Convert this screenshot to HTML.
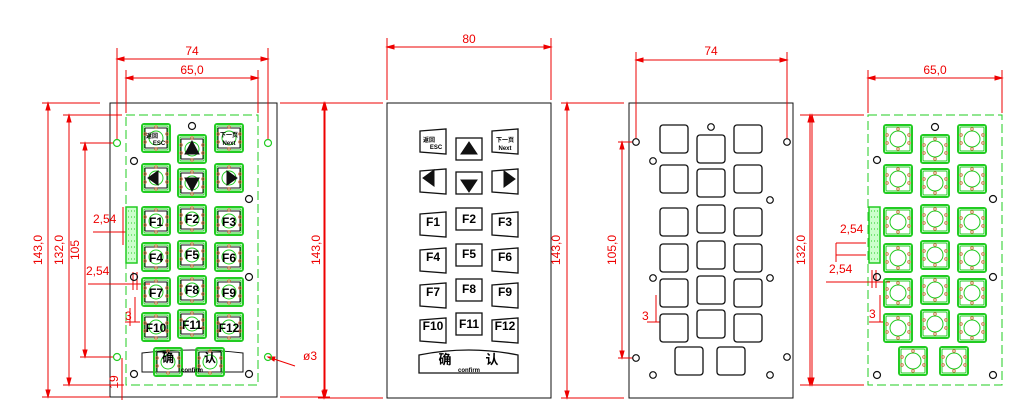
<!DOCTYPE html>
<html><head><meta charset="utf-8"><style>
body{margin:0;background:#fff;width:1036px;height:418px;overflow:hidden}
svg{display:block}
.d{fill:#e00;font-family:"Liberation Sans",sans-serif;font-size:12px}
.k{font-family:"Liberation Sans","Noto Sans CJK SC",sans-serif;font-weight:bold;fill:#000}
</style></head><body>
<svg id="s" width="1036" height="418" viewBox="0 0 1036 418" xmlns="http://www.w3.org/2000/svg">
<g id="g" stroke-linecap="butt"></g>
<text class="d" x="192" y="55" text-anchor="middle">74</text>
<text class="d" x="192" y="74" text-anchor="middle">65,0</text>
<text class="d" transform="translate(42,250) rotate(-90)" text-anchor="middle">143,0</text>
<text class="d" transform="translate(63,250) rotate(-90)" text-anchor="middle">132,0</text>
<text class="d" transform="translate(79,250) rotate(-90)" text-anchor="middle">105</text>
<text class="d" transform="translate(320,250) rotate(-90)" text-anchor="middle">143,0</text>
<text class="d" x="93" y="223">2,54</text>
<text class="d" x="86" y="275">2,54</text>
<text class="d" x="125" y="320">3</text>
<text class="d" transform="translate(118,382) rotate(-90)" text-anchor="middle">19</text>
<text class="d" x="303" y="360">ø3</text>
<text class="d" x="469" y="43" text-anchor="middle">80</text>
<text class="d" transform="translate(560,250) rotate(-90)" text-anchor="middle">143,0</text>
<text class="d" x="711" y="55" text-anchor="middle">74</text>
<text class="d" transform="translate(616,250) rotate(-90)" text-anchor="middle">105,0</text>
<text class="d" transform="translate(805,250) rotate(-90)" text-anchor="middle">132,0</text>
<text class="d" x="642" y="320">3</text>
<text class="d" x="935" y="74" text-anchor="middle">65,0</text>
<text class="d" x="840" y="233">2,54</text>
<text class="d" x="829" y="273">2,54</text>
<text class="d" x="869" y="318">3</text>
<g class="k" font-size="12" text-anchor="middle">
<text x="156" y="262">F4</text><text x="192" y="259">F5</text><text x="229" y="262">F6</text>
<text x="156" y="226">F1</text><text x="192" y="223">F2</text><text x="229" y="226">F3</text>
<text x="156" y="297">F7</text><text x="192" y="294">F8</text><text x="229" y="297">F9</text>
<text x="156" y="332">F10</text><text x="192" y="329">F11</text><text x="229" y="332">F12</text>
<text x="152" y="138" font-size="6">返回</text><text x="159" y="145" font-size="6">ESC</text>
<text x="229" y="137" font-size="6">下一页</text><text x="229" y="145" font-size="6">Next</text>
<text x="168" y="362" font-size="12">确</text><text x="210" y="362" font-size="12">认</text>
<text x="192" y="372" font-size="6">confirm</text>
</g>
<g class="k" font-size="12" text-anchor="middle">
<text x="433" y="226">F1</text><text x="469" y="223">F2</text><text x="505" y="226">F3</text>
<text x="433" y="261">F4</text><text x="469" y="258">F5</text><text x="505" y="261">F6</text>
<text x="433" y="296">F7</text><text x="469" y="293">F8</text><text x="505" y="296">F9</text>
<text x="433" y="330">F10</text><text x="469" y="328">F11</text><text x="505" y="330">F12</text>
<text x="429" y="142" font-size="6">返回</text><text x="436" y="149" font-size="6">ESC</text>
<text x="505" y="142" font-size="6">下一页</text><text x="505" y="150" font-size="6">Next</text>
<text x="445" y="364" font-size="13">确</text><text x="492" y="364" font-size="13">认</text>
<text x="469" y="372" font-size="6">confirm</text>
</g>
</svg>
<script>
var g=document.getElementById('g'),o='';
function L(x1,y1,x2,y2,c,w,da){o+='<line x1="'+x1+'" y1="'+y1+'" x2="'+x2+'" y2="'+y2+'" stroke="'+c+'" stroke-width="'+(w||1)+'"'+(da?' stroke-dasharray="'+da+'"':'')+'/>';}
function R(x,y,w,h,c,sw,rx,da,f){o+='<rect x="'+x+'" y="'+y+'" width="'+w+'" height="'+h+'" fill="'+(f||'none')+'" stroke="'+c+'" stroke-width="'+(sw||1)+'"'+(rx?' rx="'+rx+'"':'')+(da?' stroke-dasharray="'+da+'"':'')+'/>';}
function C(x,y,r,c,sw,f){o+='<circle cx="'+x+'" cy="'+y+'" r="'+r+'" fill="'+(f||'none')+'" stroke="'+c+'" stroke-width="'+(sw||1)+'"/>';}
function P(d,c,f,sw){o+='<path d="'+d+'" fill="'+(f||'none')+'" stroke="'+c+'" stroke-width="'+(sw||1)+'"/>';}
var RED='#e00',GR='#2c2',BK='#111';
function arrH(x1,x2,y){L(x1,y,x2,y,RED);P('M'+x1+' '+y+'l7 -2v4z',RED,RED);P('M'+x2+' '+y+'l-7 -2v4z',RED,RED);}
function arrV(x,y1,y2){L(x,y1,x,y2,RED);P('M'+x+' '+y1+'l-2 7h4z',RED,RED);P('M'+x+' '+y2+'l-2 -7h4z',RED,RED);}
var side=[138,178,221,257,292,327],mid=[149,183,219,255,290,324];
R(110,103,167,294,BK);
R(126,115,132,270,GR,1,0,'9 4');
arrH(117,268,59);L(117,48,117,140,RED);L(268,48,268,140,RED);
arrH(126,258,78);L(126,70,126,113,RED);L(258,70,258,113,RED);
arrV(48,103,397);L(42,103,100,103,RED);L(42,397,110,397,RED);
arrV(69,115,385);L(63,115,122,115,RED);L(63,385,124,385,RED);
arrV(85,143,357);L(80,143,114,143,RED);L(80,357,114,357,RED);
arrV(325,103,397);L(280,103,330,103,RED);L(280,397,330,397,RED);
L(295,366,268,357,RED);P('M268 357l7 0l-1 4z',RED,RED);
L(93,232,126,232,RED);L(123,207,123,245,RED);L(88,284,150,284,RED);L(133,272,133,290,RED);L(137,272,137,290,RED);
L(135,297,135,322,RED);L(125,322,140,322,RED);L(130,308,130,326,RED);
L(122,358,122,400,RED);
[[117,143],[268,143],[117,357],[268,357]].forEach(function(p){C(p[0],p[1],3.5,GR,1.2);});
[[192,126],[134,161],[249,199],[134,277],[249,277],[134,374],[249,374]].forEach(function(p){C(p[0],p[1],3.5,BK,1.2);});
R(126,207,11,56,GR,1.5,0,0,'#cfc');
for(var i=0;i<9;i++){L(128,211+i*6,135,211+i*6,GR,1,'1 2');}
function gbtn(x,y){R(x-14,y-14,28,28,GR,2,2);R(x-12,y-12,24,24,GR,1,1);L(x-11,y-10,x+11,y-10,BK);L(x-11,y+10,x+11,y+10,BK);L(x-11,y-10,x-11,y+10,BK);L(x+11,y-10,x+11,y+10,BK);C(x,y,7,GR,1);
 [[0,-11],[0,11],[-11,-4],[-11,4],[11,-4],[11,4]].forEach(function(d){C(x+d[0],y+d[1],1.3,'#c63',0.8);});}
for(var r=0;r<6;r++){gbtn(156,side[r]);gbtn(229,side[r]);gbtn(192,mid[r]);}
P('M142 353 Q192 347 243 353 L243 372 L142 372 Z',BK);
gbtn(168,362);gbtn(210,362);
P('M192 141l-7 13h14z',BK,BK);P('M192 191l-7 -13h14z',BK,BK);P('M148 178l10 -7v14z',BK,BK);P('M237 178l-10 -7v14z',BK,BK);
R(387,103,164,295,BK);
arrH(387,551,47);L(387,38,387,100,RED);L(551,38,551,100,RED);
arrV(324,103,398);L(318,103,383,103,RED);L(318,398,383,398,RED);
function kbtn(x,y,tilt){if(tilt)P('M'+(x-13)+' '+(y-11)+'L'+(x+13)+' '+(y-13)+'L'+(x+13)+' '+(y+12)+'L'+(x-13)+' '+(y+10)+'Z',BK,'#fff',1.3);else R(x-13,y-11,26,22,BK,1.3);}
for(var r=0;r<6;r++){kbtn(433,side[r]+4,1);kbtn(505,side[r]+4,1);kbtn(469,mid[r],0);}
P('M419 355 Q469 345 518 355 L518 373 L419 373 Z',BK,'none',1.3);
P('M469 142l-8 12h16z',BK,BK);P('M469 192l-8 -12h16z',BK,BK);P('M423 178l11 -8v16z',BK,BK);P('M515 179l-11 -8v16z',BK,BK);
R(629,103,164,295,BK);
arrH(636,787,60);L(636,52,636,139,RED);L(787,52,787,139,RED);
arrV(567,103,398);L(561,103,624,103,RED);L(561,398,624,398,RED);
arrV(622,142,358);L(618,142,633,142,RED);L(618,358,633,358,RED);
arrV(810,115,385);L(800,115,815,115,RED);L(800,385,815,385,RED);
L(656,295,656,322,RED);L(647,322,660,322,RED);L(656,305,656,315,RED);
[[636,142],[787,142],[636,358],[787,357],[711,127],[653,161],[770,200],[653,278],[770,278],[653,375],[770,375]].forEach(function(p){C(p[0],p[1],3.3,BK,1.2);});
for(var r=0;r<6;r++){R(660,side[r]+1-14,28,28,BK,1.3,3);R(734,side[r]+1-14,28,28,BK,1.3,3);R(697,mid[r]-14,28,28,BK,1.3,3);}
R(675,347,28,28,BK,1.3,3);R(717,347,28,28,BK,1.3,3);
R(868,115,134,270,GR,1,0,'9 4');
arrH(868,1002,78);L(868,70,868,113,RED);L(1002,70,1002,113,RED);
arrV(812,115,385);L(806,115,864,115,RED);L(806,385,864,385,RED);
L(836,243,866,243,RED);L(836,255,866,255,RED);L(836,243,836,262,RED);L(826,282,890,282,RED);L(872,270,872,288,RED);L(876,270,876,288,RED);
L(880,295,880,322,RED);L(869,322,884,322,RED);
[[935,127],[877,160],[993,199],[877,277],[993,277],[877,375],[993,375]].forEach(function(p){C(p[0],p[1],3.5,BK,1.2);});
R(869,207,11,56,GR,1.5,0,0,'#cfc');
for(var i=0;i<9;i++){L(871,211+i*6,878,211+i*6,GR,1,'1 2');}
function gb2(x,y){R(x-14,y-14,28,28,GR,2,2);R(x-12,y-12,24,24,GR,1,1);C(x,y,8,GR,1);
 [[0,-10],[0,10],[-11,-4],[-11,4],[11,-4],[11,4]].forEach(function(d){C(x+d[0],y+d[1],1.3,'#c63',0.8);});}
for(var r=0;r<6;r++){gb2(898,side[r]+1);gb2(972,side[r]+1);gb2(935,mid[r]);}
gb2(913,361);gb2(954,361);
g.innerHTML=o;
</script>
</body></html>
